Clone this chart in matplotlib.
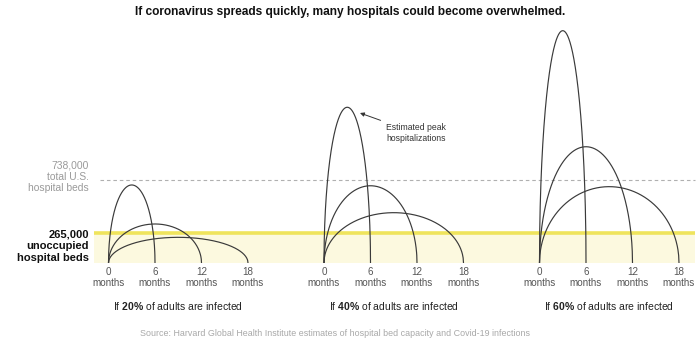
import numpy as np
import matplotlib
matplotlib.use('Agg')
import matplotlib.pyplot as plt

plt.rcParams['font.family'] = ['Liberation Sans', 'DejaVu Sans']
plt.rcParams['mathtext.fontset'] = 'custom'
plt.rcParams['mathtext.rm'] = 'Liberation Sans'
plt.rcParams['mathtext.bf'] = 'Liberation Sans:bold'

# data, thousands of hospital beds
scenarios = ['20%', '40%', '60%']
durations = [6, 12, 18]          # months
peaks_20 = [690, 345, 227]
peaks_40 = [1377, 683, 445]
peaks_60 = [2054, 1028, 675]
total_beds = 738
free_beds = 265
tick_months = [0, 6, 12, 18]

# layout, in pixels of the 700x343 picture
W, H = 700, 343
PX_MONTH = 7.75
PX_K = 0.1131
x0 = 108.5
base = 263
gap = 215.5 / PX_MONTH


def mx(px):
    return (px - x0) / PX_MONTH


fig = plt.figure(figsize=(W / 100, H / 100), dpi=100)
ax = fig.add_axes([0, (H - base) / H, 1, base / H])
ax.set_xlim(mx(0), mx(W))
ax.set_ylim(0, base / PX_K)
for s in ax.spines.values():
    s.set_visible(False)
ax.set_yticks([])

# free beds band + lines
ax.fill_between([mx(94), mx(695)], 0, free_beds, color='#fcf9df', lw=0, zorder=1)
ax.plot([mx(94), mx(695)], [free_beds, free_beds], color='#efe45c', lw=2.6,
        solid_capstyle='butt', zorder=2)
ax.plot([mx(100), mx(695)], [total_beds, total_beds], color='#b0b0b0', lw=0.8,
        ls=(0, (3.2, 2.6)), zorder=2)

ticks = []
labels = []
for k, (name, pk) in enumerate(zip(scenarios, [peaks_20, peaks_40, peaks_60])):
    off = k * gap
    for d, p in zip(durations, pk):
        t = np.linspace(0, d, 400)
        y = p * np.sqrt(np.clip(1 - ((t - d / 2) / (d / 2)) ** 2, 0, None))
        ax.plot(t + off, y, color='#3a3a3a', lw=0.85, zorder=3)
    for m in tick_months:
        ticks.append(m + off)
        labels.append('%d\nmonths' % m)
    ax.text(9 + off, -(306 - base) / PX_K,
            r'If $\mathbf{%s}$ of adults are infected' % name.replace('%', r'\%'),
            ha='center', va='center', fontsize=7.5, color='#222222', clip_on=False)

ax.set_xticks(ticks)
ax.set_xticklabels(labels, fontsize=7.1, color='#555555', linespacing=1.05)
ax.tick_params(axis='x', length=0, pad=3.2)

# left labels
ax.text(mx(89), -(177 - base) / PX_K, '738,000\ntotal U.S.\nhospital beds',
        ha='right', va='center', multialignment='right', fontsize=7.4,
        color='#9a9a9a', linespacing=1.15)
ax.text(mx(89), -(246 - base) / PX_K, '265,000\nunoccupied\nhospital beds',
        ha='right', va='center', multialignment='right', fontsize=8,
        color='#111111', fontweight='bold', linespacing=1.22)

# annotation
ax.annotate('Estimated peak\nhospitalizations', xy=(mx(360), -(113 - base) / PX_K),
            xytext=(mx(386), -(133 - base) / PX_K), ha='left', va='center',
            multialignment='left', fontsize=6.2, color='#333333', linespacing=1.35,
            arrowprops=dict(arrowstyle='-|>', color='#333333', lw=0.7,
                            mutation_scale=6, shrinkA=2, shrinkB=0))

fig.text(0.5, 1 - 12 / H,
         'If coronavirus spreads quickly, many hospitals could become overwhelmed.',
         ha='center', va='center', fontsize=8.6, fontweight='bold', color='#111111')
fig.text(335 / W, 1 - 333 / H,
         'Source: Harvard Global Health Institute estimates of hospital bed capacity and Covid-19 infections',
         ha='center', va='center', fontsize=6.4, color='#a8a8a8')

fig.savefig('out.png', dpi=100)
